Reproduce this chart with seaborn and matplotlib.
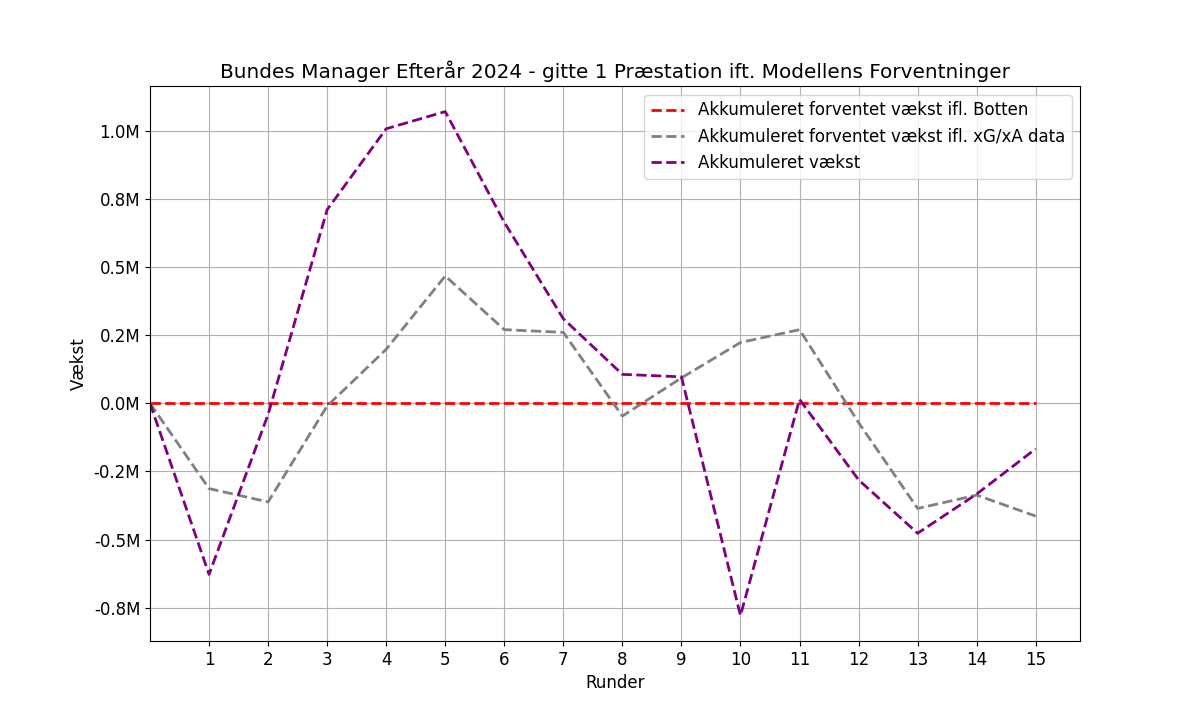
import matplotlib
matplotlib.use("Agg")
import matplotlib.pyplot as plt
import matplotlib.ticker as mticker
import seaborn as sns
import pandas as pd

rounds = list(range(0, 16))
bot_expected = [0.0] * 16
xg_expected = [0.0, -0.313, -0.362, -0.01, 0.198, 0.467, 0.270, 0.260, -0.047, 0.093,
               0.223, 0.270, -0.071, -0.386, -0.337, -0.414]
actual = [0.0, -0.628, -0.041, 0.71, 1.007, 1.070, 0.664, 0.31, 0.106, 0.097,
          -0.779, 0.014, -0.281, -0.477, -0.333, -0.167]

labels = ["Akkumuleret forventet vækst ifl. Botten",
          "Akkumuleret forventet vækst ifl. xG/xA data",
          "Akkumuleret vækst"]
colors = ["red", "gray", "purple"]

fig, ax = plt.subplots(figsize=(12, 7.2), dpi=100)
for vals, lab, col in zip([bot_expected, xg_expected, actual], labels, colors):
    df = pd.DataFrame({"Runde": rounds, "Vaekst": [v * 1e6 for v in vals]})
    sns.lineplot(data=df, x="Runde", y="Vaekst", ax=ax, color=col,
                 linestyle="--", label=lab, linewidth=2)

ax.set_xlim(left=0)
ax.set_xticks(list(range(1, 16)))
ax.yaxis.set_major_locator(mticker.MultipleLocator(250000))
ax.yaxis.set_major_formatter(mticker.FuncFormatter(lambda v, p: f"{v/1e6:.1f}M"))
ax.grid(True)
ax.set_title("Bundes Manager Efterår 2024 - gitte 1 Præstation ift. Modellens Forventninger", fontsize=14.4)
ax.set_xlabel("Runder", fontsize=12)
ax.set_ylabel("Vækst", fontsize=12)
ax.tick_params(labelsize=12)
ax.legend(loc="upper right", fontsize=12)
fig.savefig("out.png", dpi=100)
